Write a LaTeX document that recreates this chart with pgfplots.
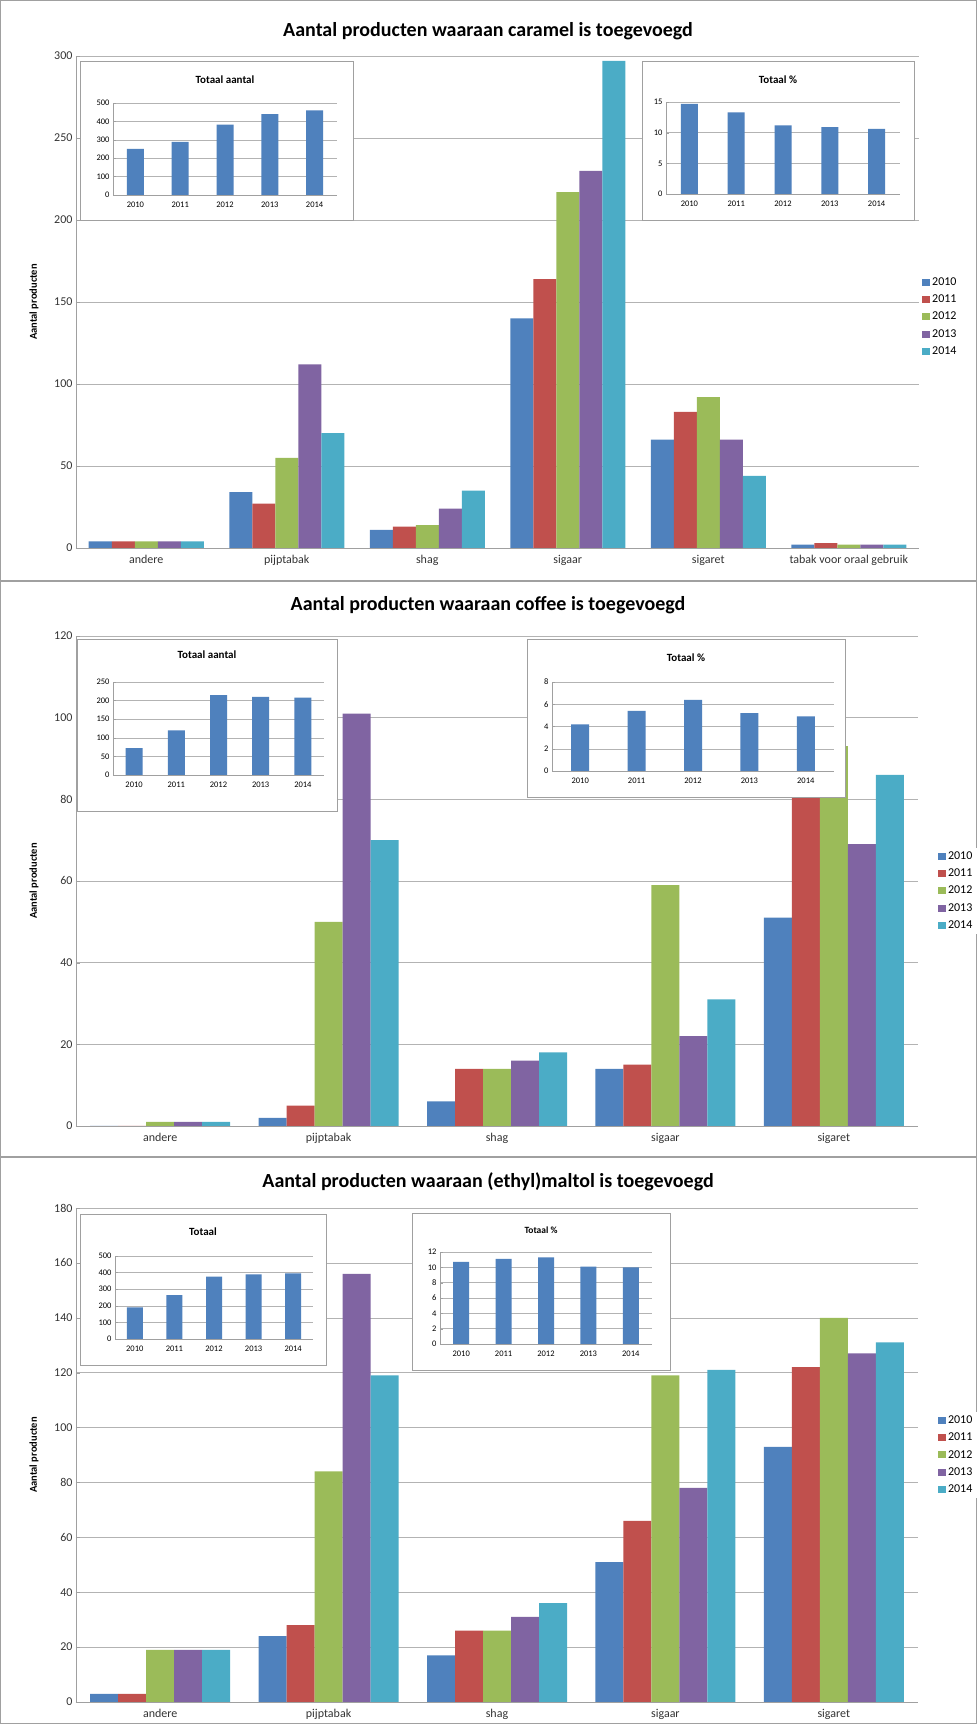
\documentclass[border=0pt]{standalone}
\usepackage{pgfplots}
\pgfplotsset{compat=1.18}
\usepackage{fontspec}
\setmainfont{Carlito}
\definecolor{c1}{HTML}{4F81BD}
\definecolor{c2}{HTML}{C0504D}
\definecolor{c3}{HTML}{9BBB59}
\definecolor{c4}{HTML}{8064A2}
\definecolor{c5}{HTML}{4BACC6}
\definecolor{gr}{HTML}{A0A0A0}
\pgfplotsset{
 mainax/.style={scale only axis, anchor=south west, ybar=0pt, ymin=0,
  xmin=-0.5, enlarge y limits=false, axis y line*=left, axis x line*=bottom,
  axis line style={gr}, ymajorgrids, grid style={gr!80},
  xtick=data, major tick length=4pt, tick style={gr}, xtick style={draw=none},
  ticklabel style={font=\fontsize{12}{14}\selectfont, text=black!80},
  /pgf/number format/assume math mode=true,
  legend cell align=left, legend style={draw=none, fill=white, font=\fontsize{12}{14}\selectfont, row sep=4pt, anchor=west},
  legend image code/.code={\fill[#1] (0pt,-3.5pt) rectangle (8pt,3.5pt);}},
 inax/.style={scale only axis, anchor=south west, ybar, ymin=0, enlarge y limits=false,
  xmin=2009.5, xmax=2014.5, xtick={2010,...,2014}, bar width=17pt,
  axis y line*=left, axis x line*=bottom, axis line style={gr}, ymajorgrids, grid style={gr!80},
  major tick length=3pt, tick style={gr}, xtick style={draw=none},
  x tick label style={/pgf/number format/1000 sep={}},
  ticklabel style={font=\fontsize{8.5}{10}\selectfont},
  /pgf/number format/assume math mode=true},
}
\newcommand\inbox[4]{\draw[gr, fill=white, line width=0.8pt] (#1,#2) rectangle (#3,#4); }
\newcommand\ylab[1]{\node[rotate=90, font=\bfseries\fontsize{10.5}{12}\selectfont] at (34,#1) {Aantal producten};}
\begin{document}
\begin{tikzpicture}[x=1pt,y=1pt]
\useasboundingbox (0,0) rectangle (977,1724);
\draw[gr, line width=1pt] (0.5,0.5) rectangle (976.5,1723.5);
\draw[gr, line width=1.5pt] (0,1143) -- (977,1143);
\draw[gr, line width=1.5pt] (0,567) -- (977,567);
% ===== Panel 1 =====
\node[font=\bfseries\fontsize{20}{22}\selectfont] at (488,1693) {Aantal producten waaraan caramel is toegevoegd};
\ylab{1422}
\begin{axis}[mainax, at={(76pt,1176pt)}, width=843pt, height=492pt, ymax=300, xmax=5.5, bar width=23pt,
 ytick={0,50,...,300}, xticklabels={andere,pijptabak,shag,sigaar,sigaret,tabak voor oraal gebruik},
 legend style={at={(rel axis cs:1.0,0.47)}}]
\addplot[fill=c1,draw=none] coordinates {(0,4)(1,34)(2,11)(3,140)(4,66)(5,2)};
\addplot[fill=c2,draw=none] coordinates {(0,4)(1,27)(2,13)(3,164)(4,83)(5,3)};
\addplot[fill=c3,draw=none] coordinates {(0,4)(1,55)(2,14)(3,217)(4,92)(5,2)};
\addplot[fill=c4,draw=none] coordinates {(0,4)(1,112)(2,24)(3,230)(4,66)(5,2)};
\addplot[fill=c5,draw=none] coordinates {(0,4)(1,70)(2,35)(3,297)(4,44)(5,2)};
\legend{2010,2011,2012,2013,2014}
\end{axis}
\inbox{80}{1504}{353}{1663}
\node[font=\bfseries\fontsize{11}{12}\selectfont] at (225,1644) {Totaal aantal};
\begin{axis}[inax, at={(113pt,1529pt)}, width=224pt, height=92pt, ymax=500, ytick={0,100,...,500}]
\addplot[fill=c1,draw=none] coordinates {(2010,250)(2011,288)(2012,382)(2013,440)(2014,460)};
\end{axis}
\inbox{642}{1504}{914}{1663}
\node[font=\bfseries\fontsize{11}{12}\selectfont] at (778,1644) {Totaal \%};
\begin{axis}[inax, at={(666pt,1530pt)}, width=234pt, height=92pt, ymax=15, ytick={0,5,10,15}]
\addplot[fill=c1,draw=none] coordinates {(2010,14.7)(2011,13.3)(2012,11.2)(2013,10.9)(2014,10.6)};
\end{axis}
% ===== Panel 2 =====
\node[font=\bfseries\fontsize{20}{22}\selectfont] at (488,1119) {Aantal producten waaraan coffee is toegevoegd};
\ylab{843}
\begin{axis}[mainax, at={(76pt,598pt)}, width=842pt, height=490pt, ymax=120, xmax=4.5, bar width=28pt,
 ytick={0,20,...,120}, xticklabels={andere,pijptabak,shag,sigaar,sigaret},
 legend style={at={(rel axis cs:1.02,0.48)}}]
\addplot[fill=c1,draw=none] coordinates {(0,0)(1,2)(2,6)(3,14)(4,51)};
\addplot[fill=c2,draw=none] coordinates {(0,0)(1,5)(2,14)(3,15)(4,85)};
\addplot[fill=c3,draw=none] coordinates {(0,1)(1,50)(2,14)(3,59)(4,93)};
\addplot[fill=c4,draw=none] coordinates {(0,1)(1,101)(2,16)(3,22)(4,69)};
\addplot[fill=c5,draw=none] coordinates {(0,1)(1,70)(2,18)(3,31)(4,86)};
\legend{2010,2011,2012,2013,2014}
\end{axis}
\inbox{77}{913}{337}{1085}
\node[font=\bfseries\fontsize{11}{12}\selectfont] at (207,1069) {Totaal aantal};
\begin{axis}[inax, at={(113pt,949pt)}, width=211pt, height=93pt, ymax=250, ytick={0,50,...,250}]
\addplot[fill=c1,draw=none] coordinates {(2010,72)(2011,120)(2012,215)(2013,210)(2014,208)};
\end{axis}
\inbox{527}{927}{845}{1085}
\node[font=\bfseries\fontsize{11}{12}\selectfont] at (686,1066) {Totaal \%};
\begin{axis}[inax, at={(552pt,953pt)}, width=282pt, height=89pt, ymax=8, ytick={0,2,...,8}, bar width=18pt]
\addplot[fill=c1,draw=none] coordinates {(2010,4.2)(2011,5.4)(2012,6.4)(2013,5.2)(2014,4.9)};
\end{axis}
% ===== Panel 3 =====
\node[font=\bfseries\fontsize{20}{22}\selectfont] at (488,542) {Aantal producten waaraan (ethyl)maltol is toegevoegd};
\ylab{269}
\begin{axis}[mainax, at={(76pt,22pt)}, width=842pt, height=494pt, ymax=180, xmax=4.5, bar width=28pt,
 ytick={0,20,...,180}, xticklabels={andere,pijptabak,shag,sigaar,sigaret},
 legend style={at={(rel axis cs:1.02,0.5)}}]
\addplot[fill=c1,draw=none] coordinates {(0,3)(1,24)(2,17)(3,51)(4,93)};
\addplot[fill=c2,draw=none] coordinates {(0,3)(1,28)(2,26)(3,66)(4,122)};
\addplot[fill=c3,draw=none] coordinates {(0,19)(1,84)(2,26)(3,119)(4,140)};
\addplot[fill=c4,draw=none] coordinates {(0,19)(1,156)(2,31)(3,78)(4,127)};
\addplot[fill=c5,draw=none] coordinates {(0,19)(1,119)(2,36)(3,121)(4,131)};
\legend{2010,2011,2012,2013,2014}
\end{axis}
\inbox{80}{359}{326}{510}
\node[font=\bfseries\fontsize{11}{12}\selectfont] at (203,492) {Totaal};
\begin{axis}[inax, at={(115pt,385pt)}, width=198pt, height=83pt, ymax=500, ytick={0,100,...,500}, bar width=16pt]
\addplot[fill=c1,draw=none] coordinates {(2010,190)(2011,265)(2012,375)(2013,390)(2014,395)};
\end{axis}
\inbox{412}{354}{670}{511}
\node[font=\bfseries\fontsize{9.5}{11}\selectfont] at (541,494) {Totaal \%};
\begin{axis}[inax, at={(440pt,380pt)}, width=212pt, height=92pt, ymax=12, ytick={0,2,...,12}, bar width=16pt]
\addplot[fill=c1,draw=none] coordinates {(2010,10.7)(2011,11.1)(2012,11.3)(2013,10.1)(2014,10.0)};
\end{axis}
\end{tikzpicture}
\end{document}
